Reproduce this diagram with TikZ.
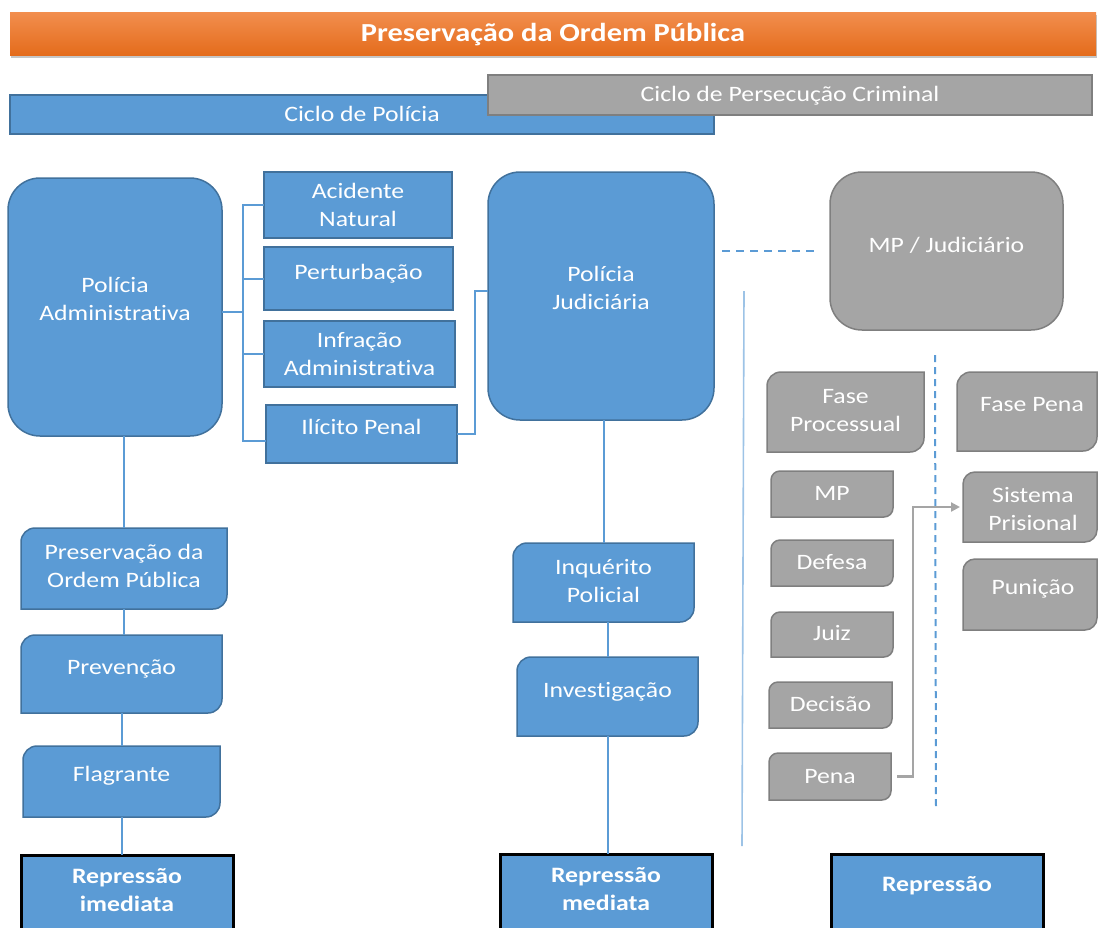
\documentclass[tikz,border=0pt]{standalone}
\usepackage{fontspec}
\setmainfont{Carlito}[FakeStretch=1.17, Ligatures=NoCommon, RawFeature={-liga;-clig;-calt;-dlig}]
\usetikzlibrary{backgrounds,shadows,arrows.meta}
\definecolor{bF}{HTML}{5B9BD5}
\definecolor{bD}{HTML}{41719C}
\definecolor{gF}{HTML}{A5A5A5}
\definecolor{gD}{HTML}{7F7F7F}
\definecolor{oT}{HTML}{F28E4E}
\definecolor{oB}{HTML}{E46C1C}
\definecolor{lineL}{HTML}{9DC3E6}
\newcommand\rdpath[3]{\path[#3] ([yshift=-#2]#1.north west) arc[start angle=180,end angle=90,radius=#2] -- (#1.north east) -- ([yshift=#2]#1.south east) arc[start angle=0,end angle=-90,radius=#2] -- (#1.south west) -- cycle;}
\begin{document}
\begin{tikzpicture}[x=1pt,y=-1pt,
  box/.style={rectangle, inner sep=0pt, outer sep=0pt},
  sq/.style={box, fill=bF, draw=bD, line width=2pt},
  rr/.style={box, fill=bF, draw=bD, line width=1.5pt, rounded corners=32pt},
  grr/.style={box, fill=gF, draw=gD, line width=1.5pt, rounded corners=32pt},
  bshape/.style={fill=bF, draw=bD, line width=1.5pt},
  gshape/.style={fill=gF, draw=gD, line width=1.5pt},
  rep/.style={box, fill=bF, draw=black, line width=3pt},
  conn/.style={draw=bF, line width=2pt},
  lbl/.style={text=white, align=center, inner sep=0pt, font=\fontsize{22}{28}\selectfont},
  blbl/.style={lbl, font=\fontsize{22}{28}\selectfont\bfseries}]
\useasboundingbox (0,0) rectangle (1098,927);
\clip (0,0) rectangle (1098,927);

% banner
\node[box, minimum width=1086pt, minimum height=43pt, top color=oT, bottom color=oB,
  drop shadow={shadow xshift=1pt, shadow yshift=-3pt, opacity=0.45},
  label={[blbl, name=bn-t, yshift=-1.5pt, font=\fontsize{26}{28}\selectfont\bfseries]center:Preservação da Ordem Pública}] (bn) at (553,33.5) {};

% cycles
\node[box, fill=bF, draw=bD, line width=2pt, minimum width=704pt, minimum height=39pt,
  label={[lbl,name=cp-t,yshift=1pt]center:Ciclo de Polícia}] (cp) at (362,114.5) {};
\node[box, fill=gF, draw=gD, line width=2pt, minimum width=604pt, minimum height=40pt,
  label={[lbl,name=cpc-t,yshift=-1pt]center:Ciclo de Persecução Criminal}] (cpc) at (790,95) {};

% big rounded boxes
\node[rr, minimum width=214pt, minimum height=258pt,
  label={[lbl,name=pa-t,yshift=8pt]center:{Polícia\\Administrativa}}] (pa) at (115,307) {};
\node[rr, minimum width=226pt, minimum height=248pt,
  label={[lbl,name=pj-t,yshift=8pt]center:{Polícia\\Judiciária}}] (pj) at (601,296) {};
\node[grr, minimum width=233pt, minimum height=158pt,
  label={[lbl,name=mj-t,yshift=6pt]center:{MP / Judiciário}}] (mj) at (946.5,251) {};

% square boxes
\node[sq, minimum width=188pt, minimum height=66pt,
  label={[lbl,name=an-t]center:{Acidente\\Natural}}] (an) at (358,205) {};
\node[sq, minimum width=189pt, minimum height=63pt,
  label={[lbl,name=pt-t,yshift=4.5pt]center:Perturbação}] (pt) at (358.5,278.5) {};
\node[sq, minimum width=191pt, minimum height=66pt,
  label={[lbl,name=ia-t]center:{Infração\\Administrativa}}] (ia) at (359.5,354) {};
\node[sq, minimum width=191pt, minimum height=58pt,
  label={[lbl,name=ip-t,yshift=7pt]center:Ilícito Penal}] (ip) at (361.5,434) {};

% diagonal-rounded boxes (blue)
\node[box, minimum width=206pt, minimum height=81pt,
  label={[lbl,name=po-t,yshift=2.5pt]center:{Preservação da\\Ordem Pública}}] (po) at (124,568.5) {};
\node[box, minimum width=201pt, minimum height=78pt,
  label={[lbl,name=pv-t,yshift=5pt]center:Prevenção}] (pv) at (121.5,674) {};
\node[box, minimum width=197pt, minimum height=71pt,
  label={[lbl,name=fl-t,yshift=5.5pt]center:Flagrante}] (fl) at (121.5,781.5) {};
\node[box, minimum width=181pt, minimum height=79pt,
  label={[lbl,name=iq-t,yshift=1pt]center:{Inquérito\\Policial}}] (iq) at (603.5,582.5) {};
\node[box, minimum width=181pt, minimum height=79pt,
  label={[lbl,name=iv-t,yshift=4.5pt]center:Investigação}] (iv) at (607.5,696.5) {};

% diagonal-rounded boxes (grey)
\node[box, minimum width=157pt, minimum height=80pt,
  label={[lbl,name=fp-t,yshift=1pt]center:{Fase\\Processual}}] (fp) at (845.5,412) {};
\node[box, minimum width=122pt, minimum height=46pt,
  label={[lbl,name=mp-t,yshift=1pt]center:MP}] (mp) at (832,494) {};
\node[box, minimum width=122pt, minimum height=46pt,
  label={[lbl,name=df-t,yshift=1pt]center:Defesa}] (df) at (832,563) {};
\node[box, minimum width=122pt, minimum height=45pt,
  label={[lbl,name=jz-t,yshift=1pt]center:Juiz}] (jz) at (832,634.5) {};
\node[box, minimum width=123pt, minimum height=46pt,
  label={[lbl,name=dc-t,yshift=1pt]center:Decisão}] (dc) at (830.5,705) {};
\node[box, minimum width=122pt, minimum height=47pt,
  label={[lbl,name=pn-t]center:Pena}] (pn) at (830,776.5) {};
\node[box, minimum width=140pt, minimum height=79pt,
  label={[lbl,name=fpn-t,yshift=6.5pt,xshift=5pt]center:Fase Pena}] (fpn) at (1027,411.5) {};
\node[box, minimum width=134pt, minimum height=70pt,
  label={[lbl,name=sp-t,yshift=-2pt,xshift=3pt]center:{Sistema\\Prisional}}] (sp) at (1030,507) {};
\node[box, minimum width=134pt, minimum height=71pt,
  label={[lbl,name=pu-t,yshift=5.5pt,xshift=3pt]center:Punição}] (pu) at (1030,594.5) {};

\begin{pgfonlayer}{background}
\rdpath{po}{14pt}{bshape}
\rdpath{pv}{14pt}{bshape}
\rdpath{fl}{14pt}{bshape}
\rdpath{iq}{14pt}{bshape}
\rdpath{iv}{14pt}{bshape}
\rdpath{fp}{14pt}{gshape}
\rdpath{mp}{9pt}{gshape}
\rdpath{df}{9pt}{gshape}
\rdpath{jz}{9pt}{gshape}
\rdpath{dc}{9pt}{gshape}
\rdpath{pn}{9pt}{gshape}
\rdpath{fpn}{14pt}{gshape}
\rdpath{sp}{12pt}{gshape}
\rdpath{pu}{12pt}{gshape}
\end{pgfonlayer}

% repression boxes
\node[rep, minimum width=212pt, minimum height=86pt,
  label={[blbl,name=ri-t,yshift=8pt]center:{Repressão\\imediata}}] (ri) at (127,898) {};
\node[rep, minimum width=212pt, minimum height=86pt,
  label={[blbl,name=rm-t,yshift=8pt]center:{Repressão\\mediata}}] (rm) at (606,897) {};
\node[rep, minimum width=212pt, minimum height=86pt,
  label={[blbl,name=rr-t,yshift=12pt]center:Repressão}] (rr) at (937,897.5) {};

% bracket connectors
\draw[conn] ([yshift=-5pt]pa.east) -- ++(21,0);
\draw[conn] (an.west) -- ++(-21,0) |- ([yshift=-7pt]ip.west);
\draw[conn] (pt.west) -- ++(-21,0);
\draw[conn] (ia.west) -- ++(-21,0);
\draw[conn] (ip.east) -- ++(18,0) |- ([yshift=5pt]pj.west);

% vertical chains
\draw[conn] (po.north |- pa.south) -- (po.north);
\draw[conn] (po.south) -- (po.south |- pv.north);
\draw[conn] (pv.south) -- (fl.north);
\draw[conn] (fl.south) -- (fl.south |- ri.north);
\draw[conn] (iq.north |- pj.south) -- (iq.north);
\draw[conn] (iv.north |- iq.south) -- (iv.north);
\draw[conn] (iv.south) -- (iv.south |- rm.north);

% dashed link to MP / Judiciario
\draw[conn, dash pattern=on 8pt off 6pt] (pj.east |- mj.west) ++(8,0) -- ([xshift=-12pt]mj.west);

% separators
\coordinate (vt) at (744,291);
\coordinate (vb) at (742,846);
\draw[draw=lineL, line width=1.6pt] (vt) -- (vb);
\coordinate (dt) at (935,355);
\coordinate (db) at (936,810);
\draw[draw=bF, line width=2pt, dash pattern=on 7pt off 5pt] (dt) -- (db);

% arrow Pena -> Sistema Prisional
\draw[draw=gF, line width=2.2pt, -{Triangle[length=9pt,width=9pt]}] ([xshift=6pt]pn.east) -- ++(16,0) |- ([xshift=-3pt]sp.west);
\end{tikzpicture}
\end{document}
